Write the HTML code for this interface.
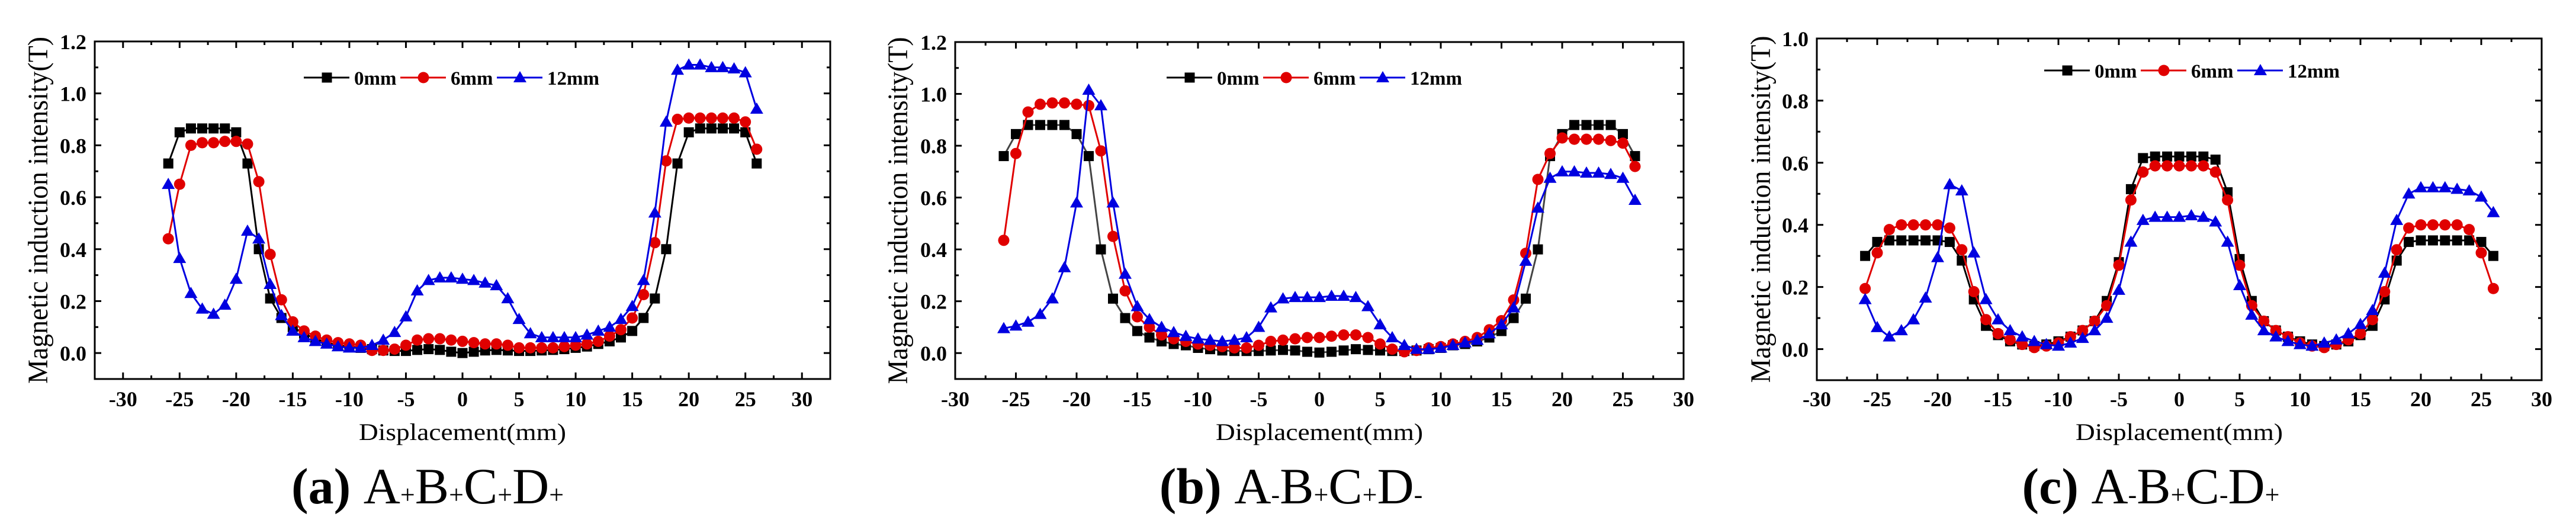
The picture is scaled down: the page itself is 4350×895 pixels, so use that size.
<!DOCTYPE html>
<html><head><meta charset="utf-8">
<style>
html,body{margin:0;padding:0;background:#fff;}
svg{display:block;}
text{font-family:"Liberation Serif",serif;}
</style></head>
<body>
<svg id="fig" width="4350" height="895" viewBox="0 0 4350 895" xmlns="http://www.w3.org/2000/svg"></svg>
<script>
const xs = [-26,-25,-24,-23,-22,-21,-20,-19,-18,-17,-16,-15,-14,-13,-12,-11,-10,-9,-8,-7,-6,-5,-4,-3,-2,-1,0,1,2,3,4,5,6,7,8,9,10,11,12,13,14,15,16,17,18,19,20,21,22,23,24,25,26];
const seriesNames = ["0mm","6mm","12mm"];
const a0 = [0.73,0.85,0.865,0.865,0.865,0.865,0.85,0.73,0.40,0.21,0.135,0.10,0.075,0.055,0.04,0.03,0.025,0.02,0.015,0.01,0.008,0.008,0.012,0.015,0.012,0.005,0.0,0.005,0.01,0.012,0.01,0.008,0.008,0.01,0.012,0.015,0.02,0.025,0.035,0.045,0.06,0.085,0.135,0.21,0.40,0.73,0.85,0.865,0.865,0.865,0.865,0.85,0.73];
const a6 = [0.44,0.65,0.80,0.81,0.81,0.815,0.815,0.805,0.66,0.38,0.205,0.12,0.085,0.065,0.05,0.04,0.035,0.03,0.01,0.01,0.015,0.03,0.05,0.055,0.055,0.05,0.045,0.04,0.035,0.035,0.03,0.02,0.02,0.02,0.02,0.025,0.03,0.035,0.045,0.065,0.09,0.135,0.225,0.425,0.74,0.90,0.905,0.905,0.905,0.905,0.905,0.89,0.785];
const a12 = [0.65,0.365,0.23,0.17,0.15,0.185,0.285,0.47,0.44,0.265,0.145,0.085,0.06,0.045,0.035,0.025,0.02,0.02,0.03,0.05,0.08,0.14,0.24,0.28,0.29,0.29,0.285,0.28,0.27,0.26,0.21,0.13,0.075,0.06,0.06,0.06,0.06,0.07,0.085,0.10,0.13,0.18,0.28,0.54,0.89,1.09,1.11,1.11,1.10,1.10,1.095,1.08,0.94];
const b0 = [0.76,0.845,0.88,0.88,0.88,0.88,0.845,0.76,0.40,0.21,0.135,0.085,0.06,0.045,0.035,0.03,0.02,0.015,0.01,0.008,0.008,0.008,0.01,0.012,0.01,0.005,0.002,0.005,0.01,0.015,0.012,0.01,0.008,0.008,0.01,0.015,0.02,0.03,0.035,0.045,0.06,0.085,0.135,0.21,0.40,0.76,0.845,0.88,0.88,0.88,0.88,0.845,0.76];
const b6 = [0.435,0.77,0.93,0.96,0.965,0.965,0.96,0.955,0.78,0.45,0.24,0.14,0.10,0.07,0.055,0.045,0.035,0.03,0.025,0.02,0.02,0.03,0.045,0.05,0.055,0.06,0.06,0.065,0.07,0.07,0.06,0.035,0.015,0.005,0.01,0.02,0.025,0.035,0.045,0.06,0.09,0.125,0.205,0.385,0.67,0.77,0.83,0.825,0.825,0.825,0.82,0.81,0.72];
const b12 = [0.095,0.105,0.12,0.15,0.21,0.33,0.58,1.015,0.955,0.58,0.305,0.18,0.13,0.10,0.08,0.065,0.055,0.05,0.045,0.05,0.06,0.10,0.175,0.21,0.215,0.215,0.215,0.22,0.22,0.215,0.18,0.11,0.06,0.03,0.015,0.015,0.02,0.03,0.04,0.05,0.075,0.11,0.175,0.355,0.56,0.675,0.70,0.70,0.695,0.695,0.69,0.675,0.59];
const c0 = [0.30,0.345,0.35,0.35,0.35,0.35,0.35,0.345,0.285,0.16,0.075,0.045,0.025,0.015,0.01,0.015,0.025,0.04,0.06,0.09,0.155,0.28,0.515,0.615,0.62,0.62,0.62,0.62,0.62,0.61,0.505,0.29,0.155,0.09,0.06,0.04,0.025,0.015,0.01,0.015,0.025,0.045,0.075,0.16,0.285,0.345,0.35,0.35,0.35,0.35,0.35,0.345,0.30];
const c6 = [0.195,0.31,0.385,0.40,0.40,0.40,0.40,0.39,0.32,0.185,0.095,0.05,0.03,0.015,0.005,0.01,0.02,0.04,0.06,0.09,0.14,0.27,0.48,0.57,0.59,0.59,0.59,0.59,0.59,0.57,0.48,0.27,0.14,0.09,0.06,0.04,0.02,0.01,0.005,0.015,0.03,0.05,0.095,0.185,0.32,0.39,0.40,0.40,0.40,0.40,0.385,0.31,0.195];
const c12 = [0.16,0.07,0.04,0.06,0.095,0.165,0.295,0.53,0.51,0.31,0.16,0.095,0.06,0.04,0.025,0.015,0.01,0.02,0.035,0.06,0.10,0.19,0.345,0.415,0.425,0.425,0.425,0.43,0.425,0.41,0.345,0.205,0.11,0.06,0.04,0.025,0.015,0.01,0.02,0.03,0.05,0.08,0.125,0.245,0.415,0.50,0.52,0.52,0.52,0.515,0.51,0.49,0.44];
const xTickLabels = ["-30","-25","-20","-15","-10","-5","0","5","10","15","20","25","30"];
const yTickLabelsAB = ["0.0","0.2","0.4","0.6","0.8","1.0","1.2"];
const yTickLabelsC = ["0.0","0.2","0.4","0.6","0.8","1.0"];

const NS = "http://www.w3.org/2000/svg";
const svg = document.getElementById("fig");
function mk(tag, attrs, parent){
  const e = document.createElementNS(NS, tag);
  for (const k in attrs) e.setAttribute(k, attrs[k]);
  (parent||svg).appendChild(e);
  return e;
}
const panels = [
  {id:"a", L:160, R:1402, T:70, B:640, xmin:-32.5, xmax:32.5, ymin:-0.1, ymax:1.2, data:[a0,a6,a12], yl:yTickLabelsAB, ytitleX:80, legX:513, legY:131, capX:722, capParts:["(a)","A","+","B","+","C","+","D","+"], lineBlack:"#000"},
  {id:"b", L:1613, R:2843, T:71, B:640, xmin:-30, xmax:30, ymin:-0.1, ymax:1.2, data:[b0,b6,b12], yl:yTickLabelsAB, ytitleX:1532, legX:1970, legY:131, capX:2180, capParts:["(b)","A","-","B","+","C","+","D","-"], lineBlack:"#444"},
  {id:"c", L:3068, R:4292, T:65, B:642, xmin:-30, xmax:30, ymin:-0.1, ymax:1.0, data:[c0,c6,c12], yl:yTickLabelsC, ytitleX:2989, legX:3452, legY:119, capX:3632, capParts:["(c)","A","-","B","+","C","-","D","+"], lineBlack:"#000"}
];
const colors = ["#000","#e00000","#0000e0"];
const marker = ["square","circle","triangle"];

function drawMarker(g, type, x, y, col){
  let m;
  if (type==="square") m = mk("rect",{x:x-8.5,y:y-8.5,width:17,height:17,fill:col},g);
  else if (type==="circle") m = mk("circle",{cx:x,cy:y,r:9.5,fill:col},g);
  else m = mk("polygon",{points:`${x},${y-11} ${x+11},${y+8} ${x-11},${y+8}`,fill:col},g);
  return m;
}

panels.forEach(p=>{
  const sx = v => p.L + (v - p.xmin)/(p.xmax - p.xmin)*(p.R - p.L);
  const sy = v => p.B - (v - p.ymin)/(p.ymax - p.ymin)*(p.B - p.T);
  const g = mk("g",{});
  
  

  p.data.forEach((vals, si)=>{
    const sg = mk("g",{}, g);
    
    
    const pts = xs.map((x,i)=>sx(x).toFixed(1)+","+sy(vals[i]).toFixed(1)).join(" ");
    const pl = mk("polyline",{points:pts, fill:"none", stroke: si===0 ? p.lineBlack : colors[si], "stroke-width":3}, sg);
    
    
    xs.forEach((x,i)=>{
      const m = drawMarker(sg, marker[si], sx(x), sy(vals[i]), colors[si]);
      
      
    });
  });

  const fr = mk("rect",{x:p.L,y:p.T,width:p.R-p.L,height:p.B-p.T,fill:"none",stroke:"#000","stroke-width":3}, g);
  
  

  for (let v=-30; v<=30.01; v+=2.5){
    const major = Math.abs(v % 5) < 0.01;
    const len = major ? 11 : 6;
    const X = sx(v);
    mk("line",{x1:X,y1:p.B,x2:X,y2:p.B-len,stroke:"#000","stroke-width":3}, g);
    mk("line",{x1:X,y1:p.T,x2:X,y2:p.T+len,stroke:"#000","stroke-width":3}, g);
  }
  xTickLabels.forEach(t=>{
    const tx = mk("text",{x:sx(parseFloat(t)),y:686,"text-anchor":"middle","font-size":36,"font-weight":"bold"}, g);
    tx.textContent = t;
    
    
  });
  for (let k=Math.round(p.ymin*10); k<=Math.round(p.ymax*10); k++){
    const v = k/10;
    if (k === Math.round(p.ymin*10)) continue;
    const major = k % 2 === 0;
    const len = major ? 11 : 6;
    const Y = sy(v);
    mk("line",{x1:p.L,y1:Y,x2:p.L+len,y2:Y,stroke:"#000","stroke-width":3}, g);
    mk("line",{x1:p.R,y1:Y,x2:p.R-len,y2:Y,stroke:"#000","stroke-width":3}, g);
  }
  p.yl.forEach(t=>{
    const ty = mk("text",{x:p.L-14,y:sy(parseFloat(t))+13,"text-anchor":"end","font-size":36,"font-weight":"bold"}, g);
    ty.textContent = t;
    
    
  });

  const xt = mk("text",{x:(p.L+p.R)/2,y:743,"text-anchor":"middle","font-size":40,textLength:350,lengthAdjust:"spacingAndGlyphs"}, g);
  xt.textContent = "Displacement(mm)";
  
  
  const cy = (p.T+p.B)/2;
  const yt = mk("text",{x:p.ytitleX,y:cy,"text-anchor":"middle","font-size":48,textLength:586,lengthAdjust:"spacingAndGlyphs",transform:`rotate(-90 ${p.ytitleX} ${cy})`}, g);
  yt.textContent = "Magnetic induction intensity(T)";
  
  

  const lg = mk("g",{}, g);
  
  
  const offs = [0,163,326];
  seriesNames.forEach((n,si)=>{
    const x0 = p.legX + offs[si];
    const eg = mk("g",{}, lg);
    
    
    mk("line",{x1:x0,y1:p.legY,x2:x0+77,y2:p.legY,stroke:colors[si],"stroke-width":3}, eg);
    drawMarker(eg, marker[si], x0+39, p.legY, colors[si]);
    const lt = mk("text",{x:x0+85,y:p.legY+12,"font-size":33,"font-weight":"bold"}, eg);
    lt.textContent = n;
  });

  const cap = mk("text",{x:p.capX,y:850,"text-anchor":"middle","font-size":86}, g);
  
  
  p.capParts.forEach((s,i)=>{
    const ts = mk("tspan",{}, cap);
    if (i===0){ ts.setAttribute("font-weight","bold"); ts.textContent = s + " "; }
    else if (i%2===0){ ts.setAttribute("font-size","44"); ts.textContent = s; }
    else { ts.textContent = s; }
  });
});
</script>
</body></html>
